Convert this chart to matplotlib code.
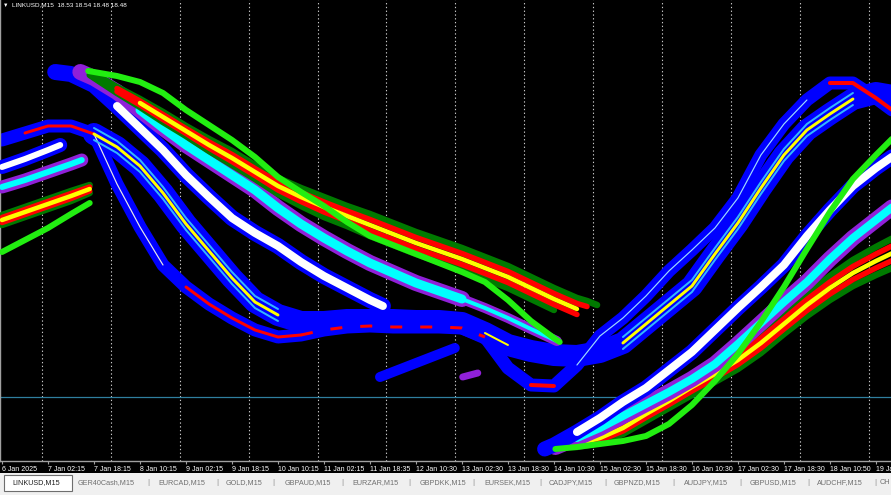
import numpy as np
import matplotlib
matplotlib.use("Agg")
import matplotlib.pyplot as plt
import matplotlib.transforms as mtransforms
from matplotlib.patches import Rectangle

W, H = 891, 495
PT = 0.72  # points per pixel at dpi 100

SYMBOL = "LINKUSD,M15"
QUOTES = [18.53, 18.54, 18.48, 18.48]

# one axis label every 64 M15 bars
TIME_LABELS = ["6 Jan 2025", "7 Jan 02:15", "7 Jan 18:15", "8 Jan 10:15", "9 Jan 02:15",
               "9 Jan 18:15", "10 Jan 10:15", "11 Jan 02:15", "11 Jan 18:35", "12 Jan 10:30",
               "13 Jan 02:30", "13 Jan 18:30", "14 Jan 10:30", "15 Jan 02:30", "15 Jan 18:30",
               "16 Jan 10:30", "17 Jan 02:30", "17 Jan 18:30", "18 Jan 10:50", "19 Ja"]

TABS = ["LINKUSD,M15", "GER40Cash,M15", "EURCAD,M15", "GOLD,M15", "GBPAUD,M15", "EURZAR,M15",
        "GBPDKK,M15", "EURSEK,M15", "CADJPY,M15", "GBPNZD,M15", "AUDJPY,M15", "GBPUSD,M15",
        "AUDCHF,M15", "CH"]

# x = M15 bar index, y = indicator level
# --- stubs on the left edge (end of older lines)
stub_white_x = [0, 32, 64, 81]
stub_white = [294, 302, 311, 316]
stub_cyan_x = [0, 32, 64, 96, 111]
stub_cyan = [274, 281, 289, 297, 301]
stub_gold_x = [0, 32, 64, 96, 122]
stub_gold = [241, 249, 257, 265, 272]
stub_gold_spread = [5, 5, 5, 5, 4]
stub_green = [209, 221, 233, 247, 258]

# --- fast ribbon (blue), sampled every 32 bars
fast_x = np.arange(0, 1249, 32)
fast_lead = [321, 328, 335, 335, 327, 277, 234, 196, 174, 157, 143, 131, 124, 126, 131, 134,
             135, 134, 134, 134, 133, 124, 93, 76, 75, 96, 125, 143, 165, 190, 211, 233,
             263, 306, 337, 361, 378, 378, 363, 346]
fast_mid = [327, 314, 295, 268, 237, 210, 183, 159, 146, 139, 139, 141, 141, 141, 140, 140,
            138, 128, 116, 110, 106, 105, 109, 118, 137, 156, 175, 207, 238, 273, 306, 331,
            347, 362, 368, 364]

# --- slow lines falling from the top left
slow_blue_x = [74, 96, 128, 160, 192, 224, 256, 288, 320, 352, 384, 416, 448, 480, 512, 530]
slow_blue = [389, 387, 376, 355, 333, 311, 286, 264, 243, 228, 215, 199, 185, 173, 161, 155]
slow_purple_x = [109, 128, 160, 192, 224, 256, 288, 320, 352, 384, 416, 448, 480, 512, 544,
                 576, 608, 640, 672, 704, 736, 772]
slow_purple = [389, 383, 369, 351, 333, 316, 301, 286, 271, 253, 237, 223, 210, 198, 188,
               178, 170, 162, 153, 143, 132, 120]
slow_gold_x = [122, 160, 192, 224, 256, 288, 320, 352, 384, 416, 448, 480, 512, 544, 576,
               608, 640, 672, 704, 736, 768, 800, 814, 828]
slow_gold = [388, 371, 358, 344, 330, 316, 303, 289, 275, 264, 254, 245, 236, 227, 218, 210,
             202, 193, 184, 173, 162, 152, 149, 145]
slow_gold_spread = [2, 3, 4, 5, 5, 6, 7, 7, 8, 9, 10, 10, 11, 11, 11, 11, 11, 11, 11, 11,
                    11, 11, 11, 11]
slow_green_x = [120, 160, 192, 224, 256, 288, 320, 352, 384, 416, 448, 480, 512, 544, 576,
                608, 640, 672, 704, 736, 768, 776]
slow_green = [390, 385, 379, 368, 351, 336, 321, 304, 284, 269, 255, 239, 225, 216, 207, 198,
              189, 179, 161, 140, 123, 119]

# --- slow lines rising on the right
rise_blue_x = [755, 768, 800, 832, 864, 896, 928, 960, 992, 1024, 1056, 1088, 1120, 1152,
               1184, 1216, 1248]
rise_blue = [12, 16, 29, 43, 59, 73, 91, 109, 131, 153, 174, 196, 225, 251, 275, 293, 309]
rise_x = [770, 800, 832, 864, 896, 928, 960, 992, 1024, 1056, 1088, 1120, 1152, 1184, 1216,
          1248]
rise_purple = [14, 23, 33, 45, 57, 69, 82, 97, 117, 138, 159, 179, 202, 223, 241, 259]
rise_gold = [14, 17, 23, 33, 47, 60, 74, 87, 101, 118, 137, 156, 173, 188, 200, 211]
rise_gold_spread = [0, 3, 5, 6, 7, 7, 8, 8, 9, 10, 10, 11, 12, 13, 14, 15]
rise_green = [12, 14, 17, 20, 25, 37, 56, 80, 107, 139, 174, 212, 249, 282, 306, 329]

# --- short pieces
seg_blue_x = [526, 630]
seg_blue = [84, 113]
seg_purple_x = [641, 662]
seg_purple = [84, 88]

bid_level = 64

BLUE = "#0000ff"
RED = "#ff0000"
YELLOW = "#ffff00"
CYAN = "#00ffff"
PURPLE = "#9020d8"
DKGREEN = "#007a00"
LIME = "#22ee11"
LIGHTBLUE = "#33b5ff"

plt.rcParams["font.family"] = ["Liberation Sans", "DejaVu Sans"]

fig = plt.figure(figsize=(W / 100, H / 100), dpi=100, facecolor="black")
ax = fig.add_axes([0, 34 / H, 1, 461 / H], facecolor="black")


def line(x, y, color, px, z, dy=0, **kw):
    tr = ax.transData
    if dy:
        tr = mtransforms.offset_copy(ax.transData, fig=fig, y=-dy * PT, units="points")
    ax.plot(x, y, color=color, lw=px * PT, solid_capstyle="round", solid_joinstyle="round",
            dash_capstyle="butt", zorder=z, transform=tr, **kw)


def gold_stack(x, y, spread, z, spans=None):
    x = np.asarray(x)
    y = np.asarray(y, dtype=float)
    s = np.asarray(spread, dtype=float)
    n = len(x)
    spans = spans or {}
    parts = [("dk_top", y + s, DKGREEN, 6.5), ("dk_bot", y - s, DKGREEN, 6.5),
             ("red_top", y + 0.5 * s, RED, 5.5), ("red_bot", y - 0.5 * s, RED, 5.5),
             ("yellow", y, YELLOW, 4.5)]
    for name, yy, c, w in parts:
        a, b = spans.get(name, (0, n))
        line(x[a:b], yy[a:b], c, w, z)


# grid: one dotted line per day
for d in np.arange(55, 1237, 96):
    ax.axvline(d, color="#c8c8c8", lw=0.8, ls=(0, (1.2, 2.2)), zorder=1)
ax.axhline(bid_level, color="#2f7f9f", lw=0.9, zorder=1)

# fast ribbon
fm_x = fast_x[4:]
line(fast_x, fast_lead, BLUE, 13, 2)
line(fm_x, fast_mid, BLUE, 22, 2)
line(fast_x[1:5], fast_lead[1:5], RED, 3, 3)
line(fast_x[4:8], fast_lead[4:8], "#e8e8e8", 1.2, 3)
line(fast_x[8:14], fast_lead[8:14], RED, 3, 3)
line(fast_x[13:22], fast_lead[13:22], RED, 3, 3, ls=(0, (4, 6)))
line(fast_x[23:25], fast_lead[23:25], RED, 4, 3)
line(fast_x[25:36], fast_lead[25:36], "#9fd8ff", 1.2, 3)
line(fast_x[36:], fast_lead[36:], RED, 4, 3)
for a, b in [(0, 9), (23, 34)]:
    line(fm_x[a:b], fast_mid[a:b], LIGHTBLUE, 2, 3, dy=-6)
    line(fm_x[a:b], fast_mid[a:b], LIGHTBLUE, 2, 3, dy=6)
    line(fm_x[a:b], fast_mid[a:b], YELLOW, 3, 3)
line(fm_x[17:19], fast_mid[17:19], YELLOW, 2, 3)

# short pieces
line(seg_blue_x, seg_blue, BLUE, 10, 4)
line(seg_purple_x, seg_purple, PURPLE, 7, 4)

# left stubs
line(stub_white_x, stub_white, BLUE, 14, 5)
line(stub_white_x, stub_white, "white", 6, 6)
line(stub_cyan_x, stub_cyan, PURPLE, 13, 5)
line(stub_cyan_x, stub_cyan, CYAN, 6, 6)
gold_stack(stub_gold_x, stub_gold, stub_gold_spread, 6)
line(stub_gold_x, stub_green, LIME, 6, 7)

# slow lines falling
line(slow_blue_x, slow_blue, BLUE, 16, 5)
line(slow_blue_x[3:], slow_blue[3:], "white", 8, 6)
line(slow_purple_x[:18], slow_purple[:18], PURPLE, 16, 5)
line(slow_purple_x[17:], slow_purple[17:], PURPLE, 10, 5)
line(slow_purple_x[3:18], slow_purple[3:18], CYAN, 9, 6)
line(slow_purple_x[17:], slow_purple[17:], CYAN, 4, 6)
gold_stack(slow_gold_x, slow_gold, slow_gold_spread, 6,
           spans={"dk_top": (0, 24), "red_top": (1, 23), "yellow": (2, 22),
                  "red_bot": (1, 22), "dk_bot": (0, 21)})
line(slow_green_x, slow_green, LIME, 6, 7)

# slow lines rising
gold_stack(rise_x, rise_gold, rise_gold_spread, 6)
line(rise_x, rise_purple, PURPLE, 16, 6)
line(rise_x[1:], rise_purple[1:], CYAN, 8, 6)
line(rise_blue_x, rise_blue, BLUE, 15, 6)
line(rise_blue_x[2:], rise_blue[2:], "white", 8, 6)
line(rise_x, rise_green, LIME, 6, 7)

ax.set_xlim(-2.8, 1237)
ax.set_ylim(0, 461)
for side in ["top", "right"]:
    ax.spines[side].set_visible(False)
for side in ["left", "bottom"]:
    ax.spines[side].set_color("#a0a0a0")
    ax.spines[side].set_linewidth(1.0)
ax.set_yticks([])
ax.set_xticks(np.arange(len(TIME_LABELS)) * 64)
ax.set_xticklabels(TIME_LABELS, fontsize=5, color="white")
for lbl in ax.get_xticklabels():
    lbl.set_horizontalalignment("left")
ax.tick_params(axis="x", colors="#a0a0a0", length=2.5, width=0.8, pad=1.2, labelcolor="white")

# header text
fig.text(3 / W, 1 - 5 / H, "\u25bc", fontsize=4, color="white", va="center")
fig.text(12 / W, 1 - 5 / H, SYMBOL + "  " + " ".join(f"{q:.2f}" for q in QUOTES),
         fontsize=4.6, color="white", va="center")

# tab strip
strip_top = 473
fig.add_artist(Rectangle((0, 0), 1, (H - strip_top) / H, transform=fig.transFigure,
                         facecolor="#f0f0f0", edgecolor="none", zorder=0))
fig.add_artist(Rectangle((4 / W, (H - 491) / H), 68 / W, 16 / H, transform=fig.transFigure,
                         facecolor="white", edgecolor="#6e6e6e", lw=0.8, zorder=1))
tab_centers = [36, 106, 182, 244, 308, 375, 443, 507, 571, 637, 706, 773, 840, 885]
separators = [148, 217, 273, 342, 409, 473, 540, 605, 673, 740, 808, 875]
ty = 1 - 482.5 / H
for i, (name, cx) in enumerate(zip(TABS, tab_centers)):
    fig.text(cx / W, ty, name, fontsize=5.2, ha="center", va="center",
             color="#202020" if i == 0 else "#707070", zorder=2)
for sx in separators:
    fig.text(sx / W, ty, "|", fontsize=6, ha="center", va="center", color="#8c8c8c", zorder=2)

fig.savefig("out.png", dpi=100, facecolor=fig.get_facecolor())
